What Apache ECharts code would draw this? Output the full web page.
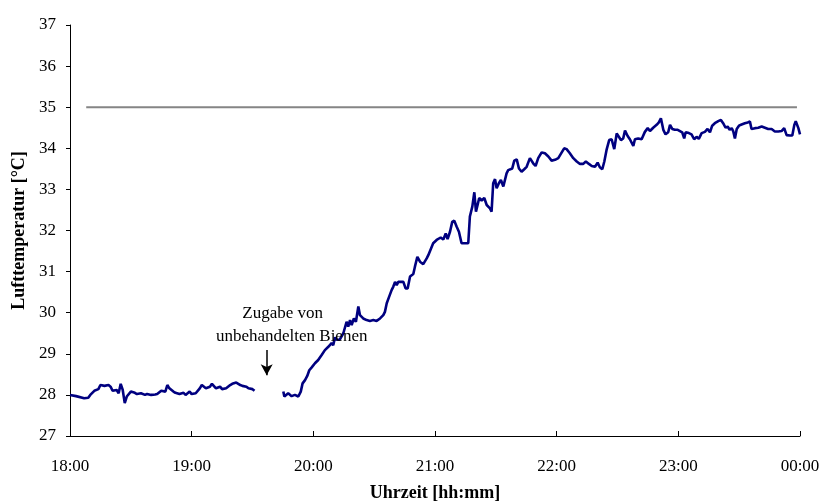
<!DOCTYPE html>
<html>
<head>
<meta charset="utf-8">
<script src="https://cdn.jsdelivr.net/npm/echarts@6/dist/echarts.min.js"></script>
<style>
  html, body { margin: 0; padding: 0; background: #fff; }
  #chart { width: 822px; height: 503px; }
</style>
</head>
<body>
<div id="chart"></div>
<script>
// Air temperature log, minutes after 18:00
const timeBefore = [0,3,7,9,10,12,14,15,17,19,20,21,23,24,25,26,27,28,30,32,33,35,37,38,40,42,43,45,47,48,49,51,52,54,56,57,59,60,62,64,65,67,69,70,72,74,75,77,79,80,82,84,85,87,88,90,91];
const tempBefore = [28.0,27.97,27.92,27.93,28.0,28.1,28.14,28.24,28.22,28.24,28.2,28.1,28.12,28.04,28.27,28.12,27.8,27.96,28.08,28.05,28.02,28.04,28.0,28.02,28.0,28.01,28.02,28.1,28.08,28.24,28.16,28.08,28.05,28.02,28.05,28.0,28.08,28.02,28.04,28.16,28.24,28.16,28.2,28.27,28.16,28.2,28.14,28.16,28.24,28.27,28.3,28.24,28.22,28.2,28.16,28.14,28.1];

const timeAfter = [105.2,105.7,107.6,109.3,110.9,112.6,113.8,114.7,115.9,117.0,118.0,119.2,120.0,120.8,121.6,122.4,123.3,124.1,124.9,125.7,126.6,127.4,128.2,129.0,129.8,130.7,131.5,132.3,133.1,134.8,135.6,136.4,137.2,138.1,138.9,140.0,141.0,142.2,143.0,144.6,146.3,147.9,149.6,151.2,152.9,154.5,155.3,156.2,157.4,158.6,159.4,160.3,161.1,161.9,
  162.7,164.4,165.5,166.5,167.7,169.3,170.1,171.3,172.6,174.2,175.9,176.7,177.5,179.1,180.8,181.6,182.8,184.1,185.3,186.2,187.4,188.5,189.5,190.7,191.8,193.1,194.8,196.4,197.2,198.4,199.4,200.2,201.0,201.8,203.0,204.3,205.5,207.1,207.9,208.7,209.6,210.4,211.5,212.5,213.7,215.3,216.1,217.0,218.1,219.1,220.3,221.4,
  221.9,222.7,224.0,225.2,226.8,228.5,229.6,230.9,232.6,234.2,235.9,237.5,239.2,240.8,242.5,243.7,244.9,246.5,248.2,249.9,251.5,253.1,254.4,255.9,257.3,258.9,260.2,261.3,262.5,263.5,264.6,265.9,267.1,268.4,269.6,270.4,271.7,272.8,273.7,275.0,276.1,277.0,277.8,278.6,
  280.2,281.9,283.5,284.9,286.0,287.6,289.3,290.4,291.4,292.6,293.7,295.0,295.9,297.0,298.3,299.7,300.8,301.9,302.9,303.6,305.2,306.5,307.8,309.0,310.1,311.5,313.1,314.4,315.6,316.7,318.0,319.7,321.0,322.1,323.3,324.3,325.3,326.3,327.1,327.9,328.8,329.9,331.2,332.8,334.2,335.3,336.1,337.8,339.4,341.1,342.7,344.3,346.0,347.6,349.3,350.9,352.2,353.4,355.0,356.2,357.2,357.9,359.2,360.0];
const tempAfter = [28.08,27.96,28.04,27.97,28.0,27.96,28.08,28.28,28.36,28.46,28.6,28.67,28.65,28.77,28.73,28.85,28.81,28.97,28.93,29.09,29.05,29.17,29.13,29.26,29.21,29.4,29.34,29.38,29.35,29.5,29.46,29.78,29.66,29.82,29.7,29.86,29.78,30.15,29.94,29.86,29.82,29.8,29.82,29.8,29.86,29.94,30.02,30.23,30.39,30.55,30.63,30.75,30.67,30.75,
  30.75,30.75,30.59,30.59,30.88,30.94,31.12,31.36,31.24,31.18,31.32,31.4,31.36,31.69,31.77,31.81,31.83,31.78,31.93,31.79,31.97,32.21,32.24,32.09,31.97,31.69,31.69,31.69,32.34,32.58,32.93,32.46,32.62,32.79,32.73,32.79,32.62,32.54,32.46,33.15,33.25,33.03,33.15,33.23,33.07,33.39,33.47,33.43,33.51,33.7,33.73,33.51,
  33.47,33.43,33.49,33.55,33.76,33.63,33.57,33.76,33.9,33.88,33.8,33.7,33.72,33.76,33.9,34.0,33.98,33.88,33.76,33.68,33.62,33.62,33.68,33.62,33.57,33.55,33.65,33.54,33.49,33.68,33.96,34.2,34.22,33.98,34.36,34.35,34.2,34.24,34.43,34.3,34.22,34.19,34.06,34.22,
  34.24,34.22,34.4,34.49,34.42,34.5,34.57,34.63,34.73,34.45,34.34,34.39,34.57,34.47,34.45,34.45,34.42,34.39,34.24,34.39,34.37,34.34,34.22,34.28,34.23,34.37,34.4,34.47,34.39,34.55,34.61,34.66,34.69,34.61,34.5,34.53,34.45,34.49,34.41,34.24,34.47,34.55,34.58,34.61,34.63,34.65,34.47,34.49,34.5,34.53,34.5,34.47,34.47,34.41,34.41,34.42,34.49,34.32,34.31,34.31,34.57,34.66,34.49,34.34];

// 35 °C reference line
const refTime = [8, 358.5];
const refTemp = [35, 35];

// Moment the bees were added
const addTime = 97;
const addArrowFrom = 29.09;
const addArrowTo = 28.48;
const addLines = ['Zugabe von', 'unbehandelten Bienen'];

const tickLabels = ['18:00', '19:00', '20:00', '21:00', '22:00', '23:00', '00:00'];

const serif = "'Liberation Serif', 'Times New Roman', serif";

const lineData = timeBefore.map((t, i) => [t, tempBefore[i]])
  .concat([[98, null]])
  .concat(timeAfter.map((t, i) => [t, tempAfter[i]]));
const refData = refTime.map((t, i) => [t, refTemp[i]]);

const chart = echarts.init(document.getElementById('chart'), null, { renderer: 'canvas' });
chart.setOption({
  animation: false,
  backgroundColor: '#ffffff',
  grid: { left: 70, right: 22, top: 25, bottom: 67, containLabel: false, outerBoundsMode: 'none' },
  xAxis: {
    type: 'value',
    min: 0, max: 360, interval: 60,
    name: 'Uhrzeit [hh:mm]',
    nameLocation: 'middle',
    nameGap: 48,
    nameTextStyle: { fontFamily: serif, fontWeight: 'bold', fontSize: 18, color: '#000' },
    axisLine: { show: true, onZero: false, lineStyle: { color: '#000', width: 1 } },
    axisTick: { show: true, inside: true, length: 5, lineStyle: { color: '#000' } },
    axisLabel: {
      margin: 22, fontFamily: serif, fontSize: 17, color: '#000',
      showMinLabel: true, showMaxLabel: true, hideOverlap: false,
      formatter: v => tickLabels[Math.round(v / 60)]
    },
    splitLine: { show: false }
  },
  yAxis: {
    type: 'value',
    min: 27, max: 37, interval: 1,
    name: 'Lufttemperatur [°C]',
    nameLocation: 'middle',
    nameGap: 41,
    nameRotate: 90,
    nameTextStyle: { fontFamily: serif, fontWeight: 'bold', fontSize: 18, color: '#000' },
    axisLine: { show: true, lineStyle: { color: '#000', width: 1 } },
    axisTick: { show: true, inside: false, length: 4, lineStyle: { color: '#000' } },
    axisLabel: { margin: 14, fontFamily: serif, fontSize: 17, color: '#000' },
    splitLine: { show: false }
  },
  series: [
    {
      name: 'Referenz',
      type: 'line',
      data: refData,
      symbol: 'none',
      lineStyle: { color: '#858585', width: 2 },
      silent: true
    },
    {
      name: 'Lufttemperatur',
      type: 'line',
      data: lineData,
      symbol: 'none',
      connectNulls: false,
      lineStyle: { color: '#000080', width: 2.6 },
      markLine: {
        silent: true,
        symbol: ['none', 'arrow'],
        symbolSize: [9, 11],
        lineStyle: { color: '#000', width: 1.5, type: 'solid' },
        label: { show: false },
        data: [[{ coord: [addTime, addArrowFrom] }, { coord: [addTime, addArrowTo] }]]
      },
      markPoint: {
        silent: true,
        symbol: 'circle',
        symbolSize: 0,
        data: [{ coord: [addTime, addArrowFrom] }],
        label: {
          show: true,
          formatter: '{a|' + addLines[0] + '}\n{b|' + addLines[1] + '}',
          position: 'top',
          distance: 2,
          offset: [25, 0],
          align: 'center',
          rich: {
            a: { fontFamily: serif, fontSize: 17, lineHeight: 23, color: '#000', padding: [0, 18, 0, 0] },
            b: { fontFamily: serif, fontSize: 17, lineHeight: 23, color: '#000' }
          }
        }
      }
    }
  ]
});
</script>
</body>
</html>
